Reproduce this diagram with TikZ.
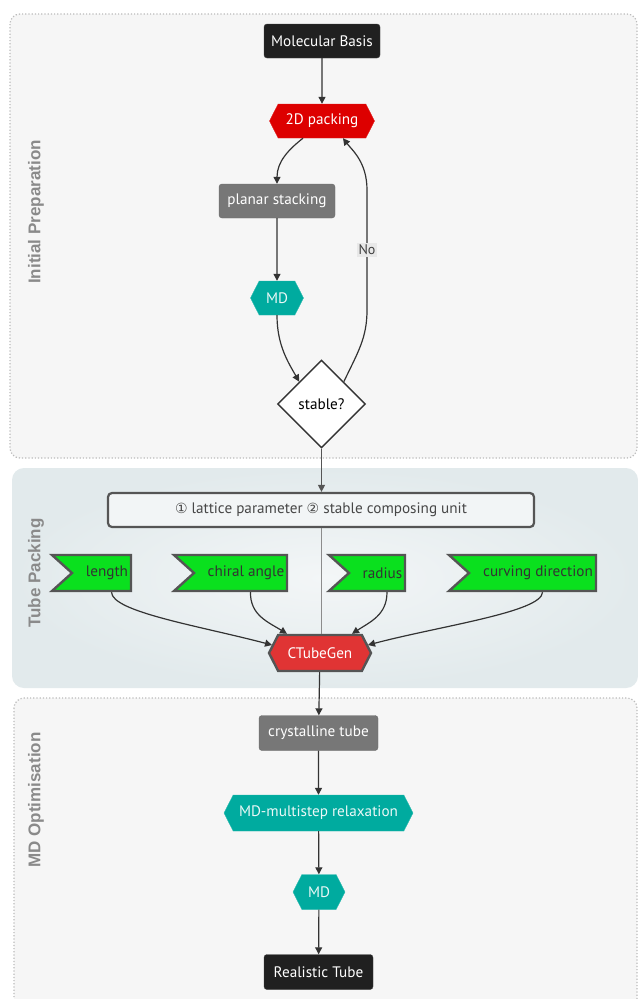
\documentclass[tikz,border=0pt]{standalone}
\usepackage{fontspec}
\setmainfont{PT Sans}
\newfontfamily\lbl{Liberation Sans}
\newfontfamily\dejavu{DejaVu Sans}
\usetikzlibrary{shapes.geometric,shapes.symbols,arrows.meta}
\definecolor{clfill}{HTML}{F6F6F6}
\definecolor{cldot}{HTML}{BBBBBB}
\definecolor{lblgray}{HTML}{8A8A8A}
\definecolor{blk}{HTML}{202020}
\definecolor{gry}{HTML}{777777}
\definecolor{red2d}{HTML}{DD0000}
\definecolor{redct}{HTML}{E03434}
\definecolor{teal}{HTML}{00AB9F}
\definecolor{grn}{HTML}{0AE01E}
\definecolor{bord}{HTML}{555555}
\definecolor{arrc}{HTML}{333333}
\definecolor{tpout}{HTML}{E2EAEC}
\definecolor{tpin}{HTML}{F3F6F7}
\definecolor{latfill}{HTML}{F2F5F6}
\tikzset{
  cluster/.style={draw=cldot, fill=clfill, dotted, line width=1.2pt, rounded corners=10pt},
  clabel/.style={rotate=90, font=\lbl\bfseries\fontsize{17}{20}\selectfont, text=lblgray},
  base/.style={font=\fontsize{15.2}{17}\selectfont, inner sep=0pt},
  blackbox/.style={base, rectangle, rounded corners=3pt, fill=blk, draw=black!75, text=white, minimum height=34},
  graybox/.style={base, rectangle, rounded corners=3pt, fill=gry, draw=gry!90!black, text=white, minimum height=34},
  hexa/.style={base, signal, signal to=west and east, signal pointer angle=126, minimum height=34},
  hexred/.style={hexa, fill=red2d, draw=red2d!90!white, text=white},
  hexteal/.style={hexa, fill=teal, draw=teal!85!white, text=white!92!teal},
  flag/.style={base, signal, signal from=west, signal to=nowhere, signal pointer angle=84, minimum height=36, fill=grn, draw=bord, line width=2.4pt, text=black!80},
  dia/.style={base, diamond, aspect=1, minimum width=88, minimum height=88, fill=white, draw=arrc, line width=1.4pt},
  latbox/.style={base, rectangle, rounded corners=4pt, fill=latfill, draw=bord, line width=2.2pt, minimum width=426, minimum height=34, text=black!72},
  arr/.style={draw=arrc, line width=1.2pt, -{Triangle[length=7pt,width=7pt]}},
  nolabel/.style={font=\fontsize{14}{16}\selectfont, fill=black!9, text=black!75, inner sep=1.5pt}
}
\begin{document}
\begin{tikzpicture}[x=1pt,y=-1pt]
\useasboundingbox (0,0) rectangle (638,999);
\fill[white] (0,0) rectangle (638,999);
% clusters
\draw[cluster] (10,14) rectangle (637,458);
\shade[inner color=tpin, outer color=tpout, rounded corners=12pt] (12,468) rectangle (638,688);
\draw[cluster] (14,698) rectangle (637,1012);
\node[clabel] (l1) at (36,212) {Initial Preparation};
\node[clabel] (l2) at (36,573) {Tube Packing};
\node[clabel] (l3) at (36,800) {MD Optimisation};
% nodes
\node[blackbox, minimum width=116] (mb) at (322,41) {Molecular Basis};
\node[hexred, minimum width=105] (p2d) at (322,121) {2D packing};
\node[graybox, minimum width=116] (ps) at (277,201) {planar stacking};
\node[hexteal, minimum width=53] (md1) at (277,298) {MD};
\node[dia] (st) at (321.5,404) {stable?};
\node[latbox] (lat) at (321,510) {{\dejavu\fontsize{14}{16}\selectfont ①} lattice parameter {\dejavu\fontsize{14}{16}\selectfont ②} stable composing unit};
\node[flag, minimum width=79] (len) at (101.5,573) {\hspace*{11pt}length};
\node[flag, minimum width=113] (chi) at (240.5,573) {\hspace*{11pt}chiral angle};
\node[flag, minimum width=76] (rad) at (377,573) {\hspace*{11pt}radius};
\node[flag, minimum width=147] (cur) at (532.5,573) {\hspace*{11pt}curving direction};
\node[hexa, fill=redct, draw=bord, line width=2.4pt, text=white, minimum width=102, minimum height=36] (ctg) at (320,653) {CTubeGen};
\node[graybox, minimum width=119, minimum height=35] (ct) at (318.5,733) {crystalline tube};
\node[hexteal, minimum width=189, minimum height=36] (mdr) at (318.5,813) {MD-multistep relaxation};
\node[hexteal, minimum width=52, minimum height=35] (md2) at (319,892) {MD};
\node[blackbox, minimum width=109, minimum height=35] (rt) at (318.5,972) {Realistic Tube};
% edges
\draw[arr] (mb) -- (p2d);
\draw[arr] ([xshift=-19pt]p2d.south) .. controls (288,150) and (277,162) .. (ps.north);
\draw[arr] (ps) -- (md1);
\draw[arr] (md1.south) .. controls (277,345) and (288,362) .. (st.north west);
\draw[arr] (st.north east) .. controls (358,352) and (367,338) .. (367,310) -- node[nolabel] (no) {No} (367,190) .. controls (367,162) and (352,150) .. ([xshift=21pt]p2d.south);
\draw[arr, draw=bord] (st.south) -- (st.south |- lat.north);
\draw[draw=black!45, line width=0.8pt] (lat.south) -- (lat.south |- ctg.north);
\draw[arr] ([xshift=10pt]len.south) .. controls (112,612) and (200,626) .. ([shift={(-48,-8)}]ctg.center);
\draw[arr] ([xshift=10pt]chi.south) .. controls (250,615) and (268,622) .. ([xshift=-33pt]ctg.north);
\draw[arr] ([xshift=10pt]rad.south) .. controls (387,615) and (370,622) .. ([xshift=32pt]ctg.north);
\draw[arr] ([xshift=10pt]cur.south) .. controls (542,612) and (440,626) .. ([shift={(48,-8)}]ctg.center);
\draw[arr] (ctg) -- (ct);
\draw[arr] (ct) -- (mdr);
\draw[arr] (mdr) -- (md2);
\draw[arr] (md2) -- (rt);
\end{tikzpicture}
\end{document}
